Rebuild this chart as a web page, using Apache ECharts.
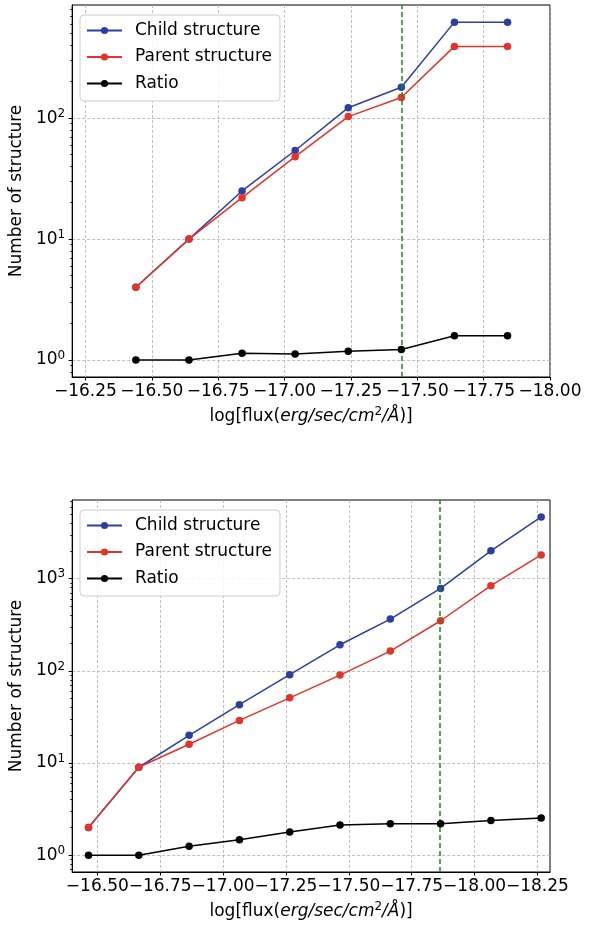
<!DOCTYPE html>
<html>
<head>
<meta charset="utf-8">
<script src="https://cdn.jsdelivr.net/npm/echarts@6/dist/echarts.min.js"></script>
<style>
  html, body { margin: 0; padding: 0; background: #fff; }
  #chart { width: 616px; height: 927px; }
</style>
</head>
<body>
<div id="chart"></div>
<script>
// ---- upper panel ----
const fluxTop = [-16.44, -16.64, -16.84, -17.04, -17.24, -17.44, -17.64, -17.84];
const childTop = [4, 10, 25, 54, 122, 180, 622, 622];
const parentTop = [4, 10, 22, 48, 103, 148, 392, 392];
const ratioTop = [1.0, 1.0, 1.14, 1.12, 1.18, 1.22, 1.59, 1.59];
const cutTop = -17.44;
const xTicksTop = [-16.25, -16.5, -16.75, -17.0, -17.25, -17.5, -17.75, -18.0];
const yMajorTop = [1, 10, 100];
const yMinorTop = [0.8, 0.9, 2, 3, 4, 5, 6, 7, 8, 9, 20, 30, 40, 50, 60, 70, 80, 90, 200, 300, 400, 500, 600, 700, 800];

// ---- lower panel ----
const fluxBottom = [-16.465, -16.665, -16.865, -17.065, -17.265, -17.465, -17.665, -17.865, -18.065, -18.265];
const childBottom = [2, 9, 20, 43, 91, 192, 365, 785, 2010, 4680];
const parentBottom = [2, 9, 16, 29, 51, 90, 164, 350, 840, 1810];
const ratioBottom = [1.0, 1.0, 1.25, 1.47, 1.78, 2.12, 2.19, 2.2, 2.38, 2.54];
const cutBottom = -17.865;
const xTicksBottom = [-16.5, -16.75, -17.0, -17.25, -17.5, -17.75, -18.0, -18.25];
const yMajorBottom = [1, 10, 100, 1000];
const yMinorBottom = [0.7, 0.8, 0.9, 2, 3, 4, 5, 6, 7, 8, 9, 20, 30, 40, 50, 60, 70, 80, 90,
  200, 300, 400, 500, 600, 700, 800, 900, 2000, 3000, 4000, 5000, 6000, 7000];

const seriesNames = ['Child structure', 'Parent structure', 'Ratio'];
const colors = ['#2b3fa1', '#e2342b', '#000000'];

const FONT = 'DejaVu Sans';
const FS = 17;      // base text size
const FS_SUP = 12;  // superscript size
const chart = echarts.init(document.getElementById('chart'), null, { renderer: 'canvas' });

const pairs = (xs, ys) => xs.map((x, i) => [x, ys[i]]);
const fmtX = v => '\u2212' + Math.abs(v).toFixed(2);
const fmtY = v => '{b|10}{s|' + Math.round(Math.log10(v)) + '}';

const gridLine = { show: true, lineStyle: { color: '#b0b0b0', type: [3, 2], width: 0.8 } };

function xAxisFor(gi, min, max, ticks) {
  return {
    type: 'value', gridIndex: gi, min: min, max: max, inverse: true,
    axisLine: { show: true, onZero: false, lineStyle: { color: '#000', width: 1 } },
    axisTick: { show: true, customValues: ticks, length: 3.5, lineStyle: { color: '#000', width: 1 } },
    axisLabel: { customValues: ticks, formatter: fmtX, fontSize: FS, color: '#000', fontFamily: FONT, margin: 6 },
    splitLine: gridLine,
    name: '{n|log[flux(}{i|erg/sec/cm}{s|2}{i|/Å}{n|)]}',
    nameLocation: 'middle', nameGap: 29,
    nameTextStyle: {
      fontFamily: FONT, fontSize: FS, color: '#000',
      rich: {
        n: { fontFamily: FONT, fontSize: FS, color: '#000', lineHeight: 21 },
        i: { fontFamily: FONT, fontSize: FS, fontStyle: 'italic', color: '#000', lineHeight: 21 },
        s: { fontFamily: FONT, fontSize: FS_SUP, color: '#000', verticalAlign: 'top', lineHeight: 13 }
      }
    }
  };
}

function yAxisMajor(gi, min, max, ticks) {
  return {
    type: 'log', logBase: 10, gridIndex: gi, min: min, max: max, position: 'left',
    axisLine: { show: true, lineStyle: { color: '#000', width: 1 } },
    axisTick: { show: true, customValues: ticks, length: 3.5, lineStyle: { color: '#000', width: 1 } },
    axisLabel: {
      customValues: ticks, formatter: fmtY, color: '#000', margin: 7,
      rich: {
        b: { fontFamily: FONT, fontSize: FS, color: '#000', lineHeight: 21 },
        s: { fontFamily: FONT, fontSize: FS_SUP, color: '#000', verticalAlign: 'top', lineHeight: 13 }
      }
    },
    splitLine: gridLine,
    minorTick: { show: false },
    name: 'Number of structure', nameLocation: 'middle', nameGap: 43,
    nameTextStyle: { fontFamily: FONT, fontSize: FS, color: '#000' }
  };
}

function yAxisMinor(gi, min, max, ticks) {
  return {
    type: 'log', logBase: 10, gridIndex: gi, min: min, max: max, position: 'left',
    axisLine: { show: false },
    axisTick: { show: true, customValues: ticks, length: 2, lineStyle: { color: '#000', width: 0.8 } },
    axisLabel: { show: false },
    splitLine: { show: false }
  };
}

function panelSeries(xi, yi, xs, ys, cut) {
  const out = ys.map((vals, k) => ({
    name: seriesNames[k], type: 'line', xAxisIndex: xi, yAxisIndex: yi,
    data: pairs(xs, vals),
    symbol: 'circle', symbolSize: 7.5, showSymbol: true,
    lineStyle: { color: colors[k], width: 1.5 },
    itemStyle: { color: colors[k] },
    emphasis: { disabled: true }, z: 3 + k
  }));
  // vertical reference line at the cut flux
  out.push({
    name: 'cut', type: 'line', xAxisIndex: xi, yAxisIndex: yi, data: [], z: 10,
    markLine: {
      silent: true, symbol: ['none', 'none'], label: { show: false },
      lineStyle: { color: '#1a8a1a', type: [5, 3], width: 1.5 },
      data: [{ xAxis: cut }]
    }
  });
  return out;
}

function legendAt(top) {
  return {
    orient: 'vertical', left: 80, top: top, data: seriesNames,
    itemWidth: 35, itemHeight: 9, itemGap: 7.5,
    padding: [6, 8, 8, 6],
    borderColor: '#cccccc', borderWidth: 1, borderRadius: 4,
    backgroundColor: 'rgba(255,255,255,0.85)',
    textStyle: { fontFamily: FONT, fontSize: FS, color: '#000', lineHeight: 19, padding: [0, 0, 0, 8] },
    selectedMode: false
  };
}

const option = {
  animation: false,
  backgroundColor: '#fff',
  textStyle: { fontFamily: FONT },
  grid: [
    { left: 72, top: 5, width: 478, height: 372, show: true, borderColor: '#000', borderWidth: 1, backgroundColor: 'transparent' },
    { left: 72, top: 500, width: 478, height: 372, show: true, borderColor: '#000', borderWidth: 1, backgroundColor: 'transparent' }
  ],
  legend: [legendAt(15), legendAt(510)],
  xAxis: [
    xAxisFor(0, -18.0, -16.2, xTicksTop),
    xAxisFor(1, -18.3, -16.4, xTicksBottom)
  ],
  yAxis: [
    yAxisMajor(0, 0.724, 862, yMajorTop),
    yAxisMinor(0, 0.724, 862, yMinorTop),
    yAxisMajor(1, 0.657, 7150, yMajorBottom),
    yAxisMinor(1, 0.657, 7150, yMinorBottom)
  ],
  series: [].concat(
    panelSeries(0, 0, fluxTop, [childTop, parentTop, ratioTop], cutTop),
    panelSeries(1, 2, fluxBottom, [childBottom, parentBottom, ratioBottom], cutBottom)
  )
};

chart.setOption(option);
</script>
</body>
</html>
